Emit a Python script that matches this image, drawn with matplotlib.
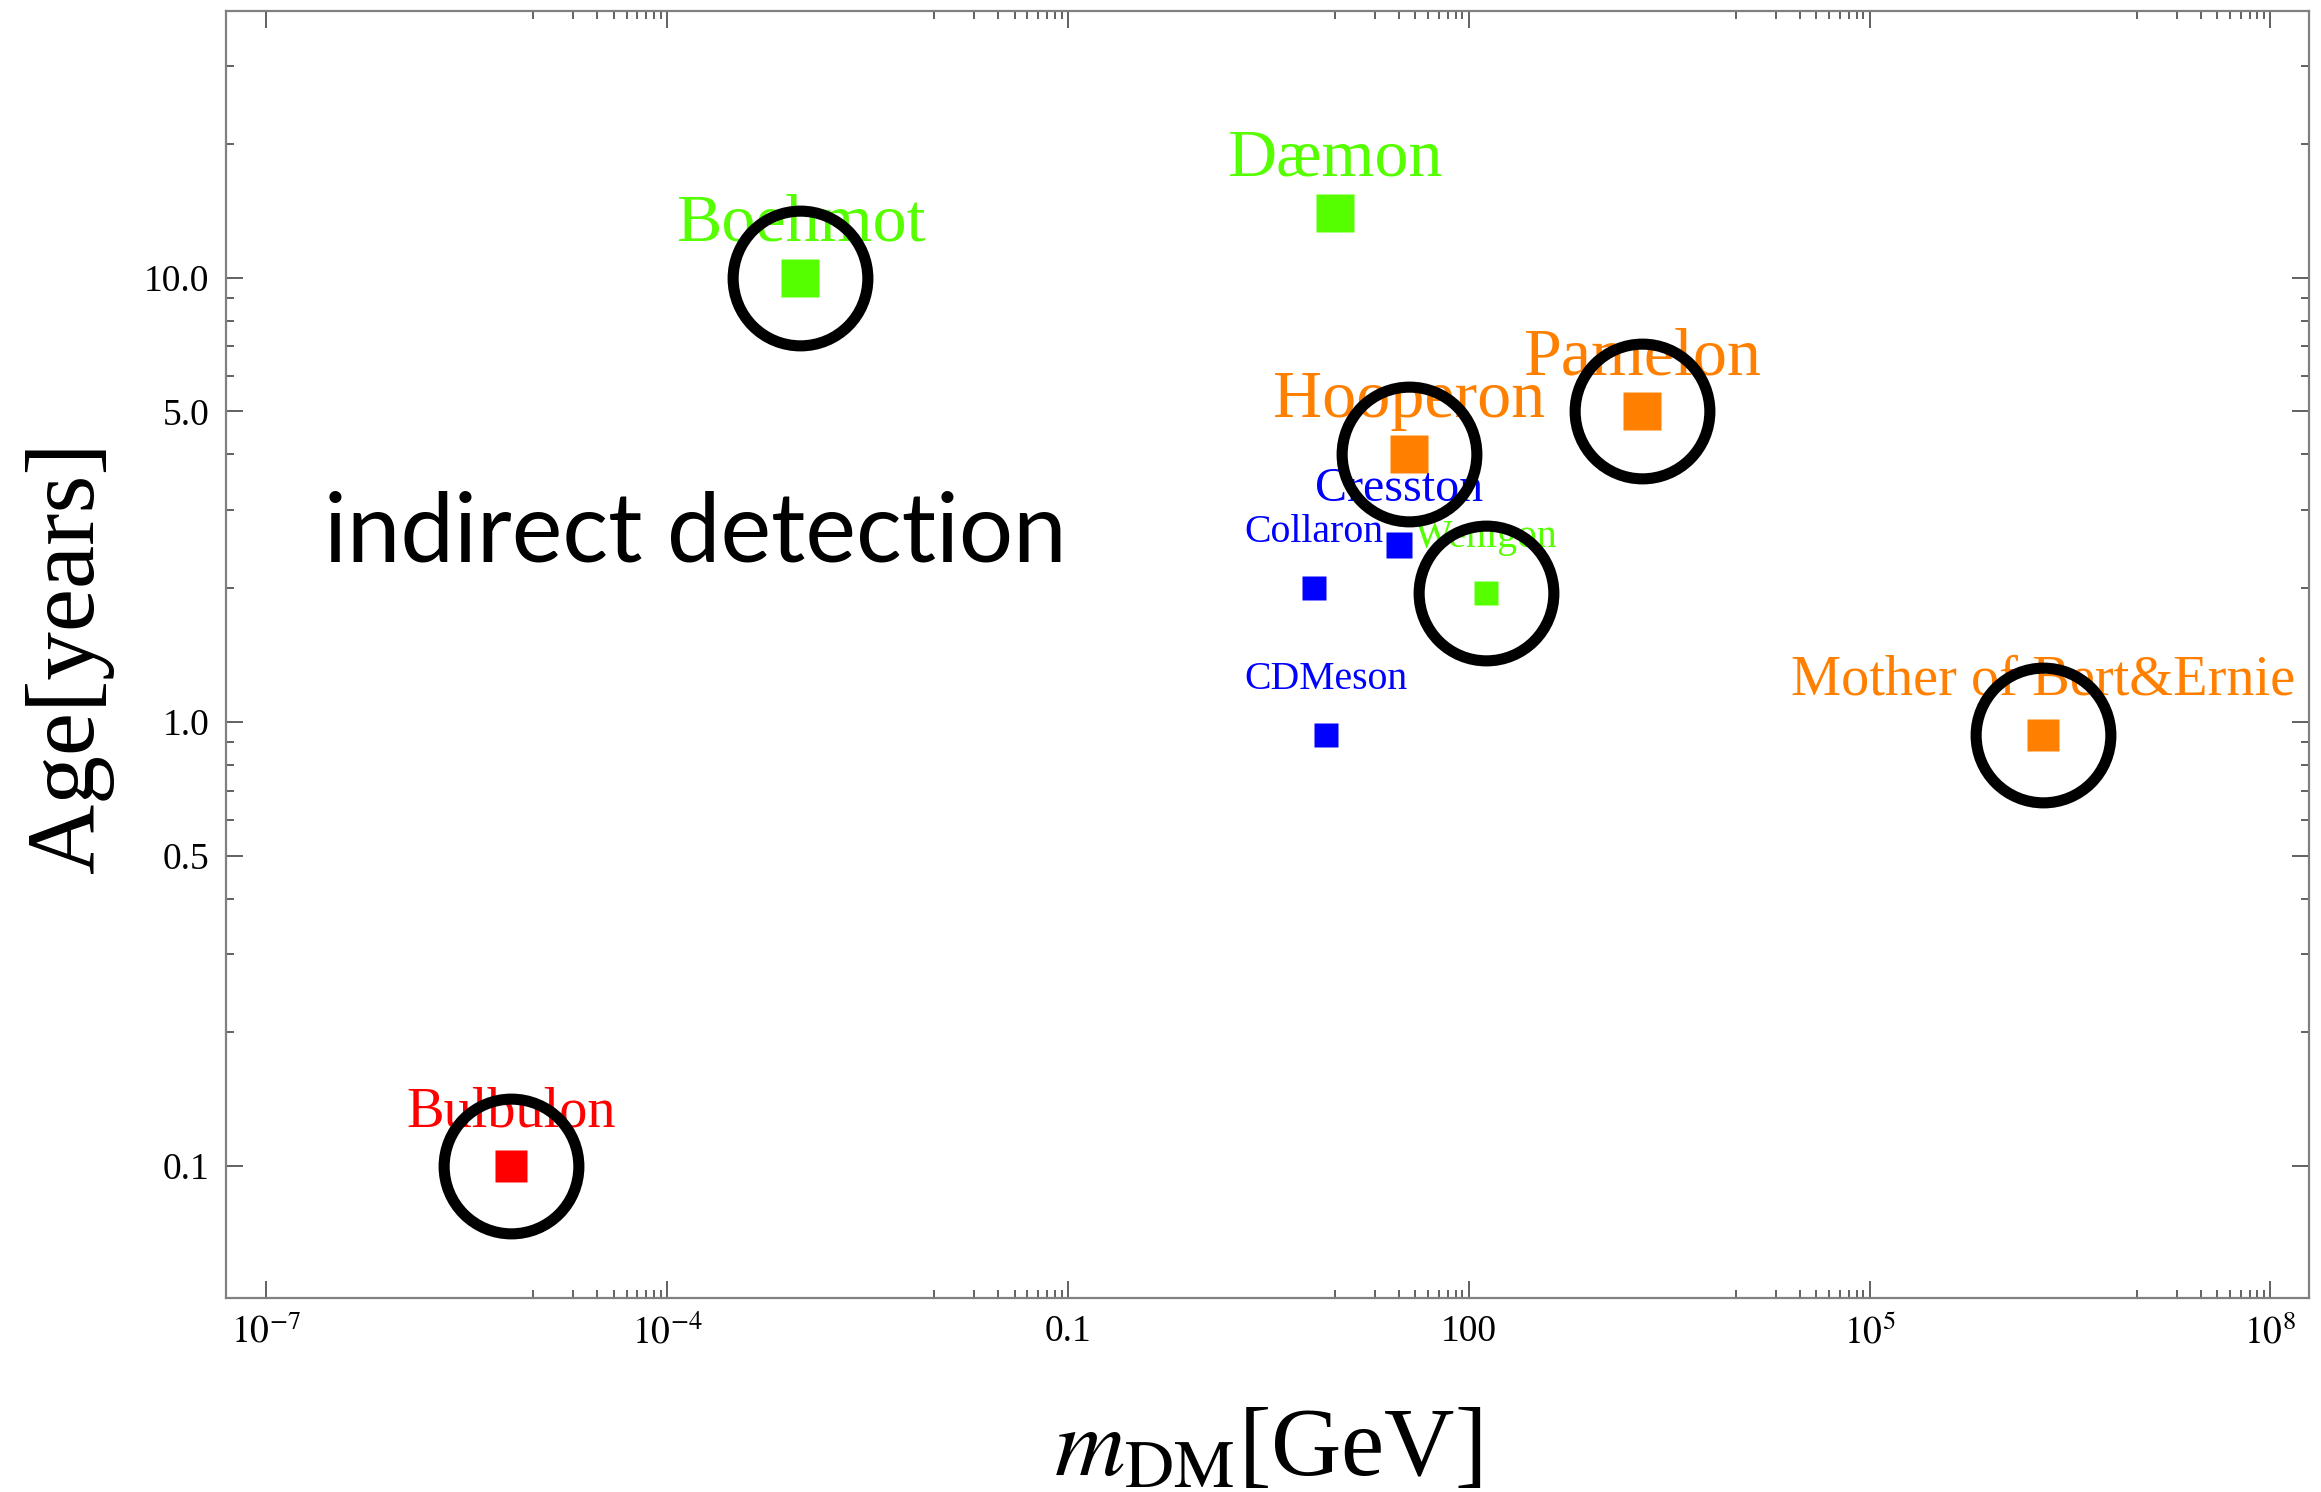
import numpy as np
import matplotlib.pyplot as plt
from matplotlib.ticker import FixedLocator, FixedFormatter, NullFormatter

plt.rcParams['font.family'] = ['Liberation Serif', 'DejaVu Serif']
plt.rcParams['mathtext.fontset'] = 'stix'

# dark matter candidates: mass [GeV] against age [years]
names = ['Bulbulon', 'Boehmot', 'Dæmon', 'Hooperon', 'Pamelon',
         'Cresston', 'Collaron', 'Wenigon', 'CDMeson', 'Mother of Bert&Ernie']
mass_gev = [6.8e-6, 1.0e-3, 10.0, 36.0, 2.0e3, 30.0, 7.0, 135.0, 8.5, 2.0e6]
age_years = [0.1, 10.0, 14.0, 4.0, 5.0, 2.5, 2.0, 1.95, 0.935, 0.935]
circled = ['Bulbulon', 'Boehmot', 'Hooperon', 'Pamelon', 'Wenigon',
           'Mother of Bert&Ernie']

x_ticks = [1e-7, 1e-4, 1e-1, 1e2, 1e5, 1e8]
x_ticklabels = [r'$10^{-7}$', r'$10^{-4}$', '0.1', '100', r'$10^{5}$', r'$10^{8}$']
y_ticks = [0.1, 0.5, 1.0, 5.0, 10.0]
y_ticklabels = ['0.1', '0.5', '1.0', '5.0', '10.0']

# per-candidate styling
colors = ['#ff0000', '#55ff00', '#55ff00', '#ff8000', '#ff8000',
          '#0000ff', '#0000ff', '#55ff00', '#0000ff', '#ff8000']
tier = ['medium', 'large', 'large', 'large', 'large',
        'mid', 'small', 'small', 'small', 'medium']
square_pt = {'large': 27.4, 'medium': 23.0, 'mid': 19.4, 'small': 17.0}
label_pt = {'large': 49, 'medium': 40.6, 'mid': 34.6, 'small': 28.6}
label_raise = {'large': 26.6, 'medium': 28.8, 'mid': 31.7, 'small': 33.1}

xlim = (10**-7.298, 10**8.29)
ylim = (10**-1.297, 10**1.6)

fig = plt.figure(figsize=(23.21, 14.92), dpi=100)
ax = fig.add_axes([0.0974, 0.1300, 0.8975, 0.8626])
ax.set_xscale('log')
ax.set_yscale('log')
ax.set_xlim(xlim)
ax.set_ylim(ylim)

for name, m, age, c, t in zip(names, mass_gev, age_years, colors, tier):
    ax.plot(m, age, marker='s', ms=square_pt[t], color=c, mec='none',
            ls='none', zorder=3)
    ax.annotate(name, (m, age), xytext=(0, label_raise[t]),
                textcoords='offset points', ha='center', va='baseline',
                fontsize=label_pt[t], color=c, zorder=3)

# black rings around the highlighted candidates
for name in circled:
    i = names.index(name)
    ax.plot(mass_gev[i], age_years[i], marker='o', ms=97, mfc='none',
            mec='black', mew=8, ls='none', zorder=5, clip_on=False)

ax.text(0.047, 0.572, 'indirect detection', transform=ax.transAxes,
        ha='left', va='baseline', fontsize=69, family=['Lato', 'DejaVu Sans'],
        color='black')

# ticks: majors every three decades, minors in the decade below each major
x_minor = [k * t / 10 for t in x_ticks[1:] for k in range(1, 10)]
y_minor = [k * 10.0**e for e in (-1, 0, 1) for k in range(2, 10)
           if 10.0**-1 <= k * 10.0**e < ylim[1] and k * 10.0**e not in y_ticks]

ax.xaxis.set_major_locator(FixedLocator(x_ticks))
ax.xaxis.set_major_formatter(FixedFormatter(x_ticklabels))
ax.xaxis.set_minor_locator(FixedLocator(x_minor))
ax.xaxis.set_minor_formatter(NullFormatter())
ax.yaxis.set_major_locator(FixedLocator(y_ticks))
ax.yaxis.set_major_formatter(FixedFormatter(y_ticklabels))
ax.yaxis.set_minor_locator(FixedLocator(y_minor))
ax.yaxis.set_minor_formatter(NullFormatter())

ax.tick_params(which='both', direction='in', top=True, right=True,
               color='#555555', width=1.3, labelsize=27, pad=12)
ax.tick_params(which='major', length=12)
ax.tick_params(which='minor', length=5.5)
for sp in ax.spines.values():
    sp.set_color('#808080')
    sp.set_linewidth(1.6)

ax.set_xlabel(r'$m_{\mathrm{DM}}$[GeV]', fontsize=70)
ax.xaxis.set_label_coords(0.5, -0.1375)
ax.xaxis.label.set_va('baseline')
ax.set_ylabel('Age[years]', fontsize=70)
ax.yaxis.set_label_coords(-0.0639, 0.498)
ax.yaxis.label.set_va('baseline')

fig.savefig('out.png', dpi=100)
